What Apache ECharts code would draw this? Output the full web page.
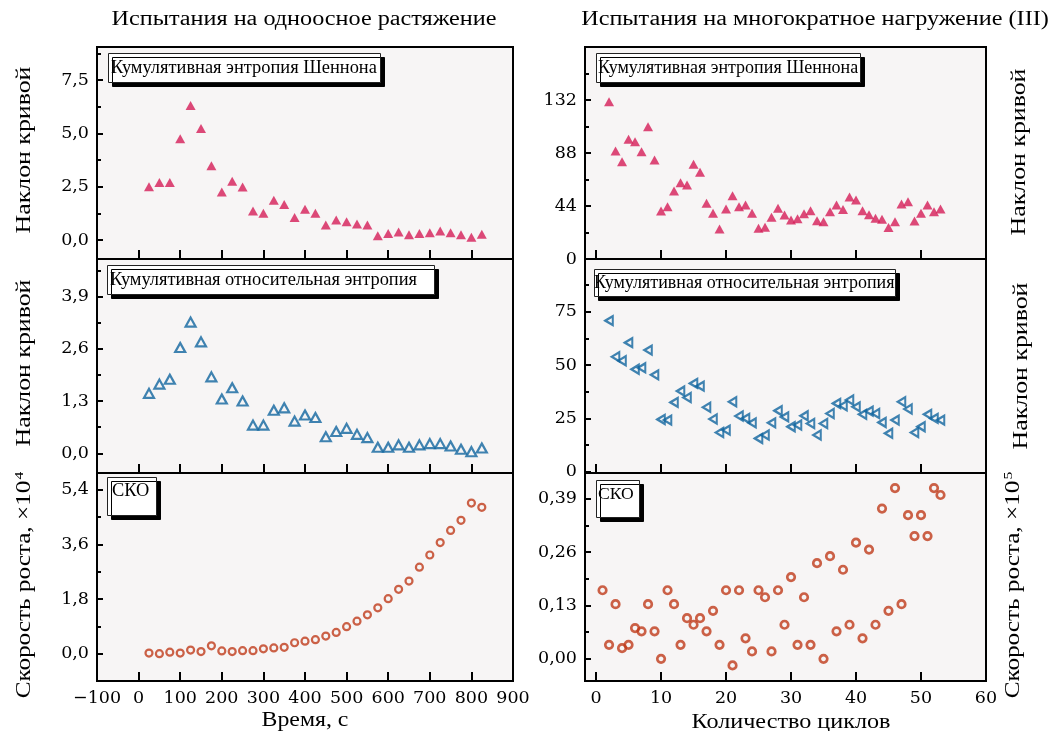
<!DOCTYPE html>
<html>
<head>
<meta charset="utf-8">
<script src="https://cdn.jsdelivr.net/npm/echarts@6/dist/echarts.min.js"></script>
<style>
  html, body { margin: 0; padding: 0; background: #fff; }
  #chart { width: 1050px; height: 731px; }
</style>
</head>
<body>
<div id="chart"></div>
<script>
// Uniaxial tension: time, s
const timeSec = [25, 50, 75, 100, 125, 150, 175, 200, 225, 250, 275, 300, 325, 350, 375, 400, 425,
  450, 475, 500, 525, 550, 575, 600, 625, 650, 675, 700, 725, 750, 775, 800, 825];
const tensionShannon = [2.50, 2.70, 2.70, 4.75, 6.31, 5.23, 3.48, 2.25, 2.75, 2.48, 1.36, 1.25, 1.86,
  1.67, 1.06, 1.44, 1.25, 0.70, 0.94, 0.86, 0.75, 0.70, 0.20, 0.31, 0.38, 0.25, 0.31, 0.34, 0.42,
  0.34, 0.25, 0.13, 0.27];
const tensionRelative = [1.49, 1.72, 1.84, 2.63, 3.26, 2.77, 1.90, 1.35, 1.63, 1.30, 0.70, 0.70, 1.07,
  1.13, 0.80, 0.95, 0.89, 0.41, 0.54, 0.62, 0.47, 0.39, 0.15, 0.15, 0.21, 0.15, 0.21, 0.24, 0.24,
  0.18, 0.10, 0.04, 0.13];
const tensionSko = [0.02, 0.00, 0.05, 0.02, 0.12, 0.07, 0.26, 0.09, 0.07, 0.10, 0.10, 0.16, 0.19,
  0.21, 0.36, 0.41, 0.46, 0.58, 0.70, 0.89, 1.07, 1.28, 1.51, 1.81, 2.12, 2.39, 2.85, 3.25, 3.66,
  4.06, 4.39, 4.96, 4.82];

// Cyclic loading (III): cycle number
const cyclesEntropy = [2, 3, 4, 5, 6, 7, 8, 9, 10, 11, 12, 13, 14, 15, 16, 17, 18, 19, 20, 21, 22, 23,
  24, 25, 26, 27, 28, 29, 30, 31, 32, 33, 34, 35, 36, 37, 38, 39, 40, 41, 42, 43, 44, 45, 46, 47, 48,
  49, 50, 51, 52, 53];
const cyclicShannon = [130.6, 89.7, 80.8, 99.4, 97.4, 89.1, 109.8, 82.2, 39.9, 43.4, 56.5, 63.4, 61.4,
  78.6, 72.0, 46.2, 37.9, 24.9, 41.5, 52.6, 43.4, 44.8, 37.9, 25.5, 26.3, 34.6, 42.1, 36.5, 32.4,
  33.5, 37.6, 40.0, 31.8, 31.0, 39.3, 44.8, 41.0, 51.5, 49.0, 40.1, 36.8, 33.8, 33.0, 26.2, 31.0,
  45.7, 47.6, 31.6, 37.9, 44.8, 39.3, 41.5];
const cyclicRelative = [70.8, 53.9, 52.0, 60.5, 48.0, 48.7, 57.0, 45.4, 24.5, 24.2, 32.5, 37.8, 34.8,
  41.4, 40.1, 30.2, 24.7, 18.4, 19.5, 32.8, 26.1, 25.0, 22.9, 15.6, 17.2, 22.9, 28.6, 25.7, 21.1,
  21.9, 26.2, 22.6, 17.2, 22.6, 27.3, 32.0, 30.9, 33.6, 30.4, 26.9, 28.4, 27.3, 23.1, 18.0, 24.2,
  32.8, 29.4, 18.4, 21.1, 26.9, 25.0, 24.2];
const cyclesSko = [1, 2, 3, 4, 5, 6, 7, 8, 9, 10, 11, 12, 13, 14, 15, 16, 17, 18, 19, 20, 21, 22, 23,
  24, 25, 26, 27, 28, 29, 30, 31, 32, 33, 34, 35, 36, 37, 38, 39, 40, 41, 42, 43, 44, 45, 46, 47, 48,
  49, 50, 51, 52, 53];
const cyclicSko = [0.167, 0.034, 0.133, 0.026, 0.034, 0.075, 0.067, 0.133, 0.067, 0.000, 0.167, 0.133,
  0.034, 0.099, 0.083, 0.099, 0.067, 0.117, 0.034, 0.167, -0.016, 0.167, 0.050, 0.018, 0.167, 0.150,
  0.018, 0.167, 0.083, 0.199, 0.034, 0.150, 0.034, 0.233, 0.000, 0.250, 0.067, 0.217, 0.083, 0.283,
  0.050, 0.266, 0.083, 0.366, 0.117, 0.416, 0.133, 0.350, 0.299, 0.350, 0.299, 0.416, 0.399];

// Tick values (labelled majors and unlabelled minors) per panel
const ticksTimeX = [-100, 0, 100, 200, 300, 400, 500, 600, 700, 800, 900];
const ticksCycleX = [0, 10, 20, 30, 40, 50, 60];
const yMajor = [
  [0, 2.5, 5, 7.5],
  [0, 1.3, 2.6, 3.9],
  [0, 1.8, 3.6, 5.4],
  [0, 44, 88, 132],
  [0, 25, 50, 75],
  [0, 0.13, 0.26, 0.39]
];
const yMinor = [
  [1.25, 3.75, 6.25, 8.75],
  [0.65, 1.95, 3.25, 4.55],
  [0.9, 2.7, 4.5],
  [22, 66, 110, 154],
  [12.5, 37.5, 62.5, 87.5],
  [0.065, 0.195, 0.325]
];
const yDigits = [1, 1, 1, 0, 0, 2];

// Text
const columnTitles = ['Испытания на одноосное растяжение', 'Испытания на многократное нагружение (III)'];
const panelLabels = ['Кумулятивная энтропия Шеннона', 'Кумулятивная относительная энтропия', 'СКО'];
const xNames = ['Время, с', 'Количество циклов'];
const slopeName = 'Наклон кривой';
const rateNames = ['Скорость роста, ×10{sup|4}', 'Скорость роста, ×10{sup|5}'];

const SERIF = 'Liberation Serif';
const WIDE_SERIF = 'DejaVu Serif';
const PINK = '#d41d58';
const BLUE = '#10659f';
const RUST = '#bf3b1a';

const chart = echarts.init(document.getElementById('chart'), null, { renderer: 'canvas' });

// Panel rows (top, height) and columns (left, width)
const rows = [{ top: 47, height: 212 }, { top: 259, height: 214 }, { top: 473, height: 208 }];
const cols = [{ left: 97, width: 416 }, { left: 585, width: 401 }];
// Visible value ranges of each panel
const yRanges = [[-0.89, 9.05], [-0.49, 4.83], [-0.90, 5.95], [0, 176], [-0.6, 99.7], [-0.054, 0.4526]];
const xRanges = [[-100, 900], [-1.7, 60]];

const grids = [];
cols.forEach(c => rows.forEach(r => grids.push({
  left: c.left, top: r.top, width: c.width, height: r.height,
  show: true, backgroundColor: '#f7f5f5', borderColor: '#000', borderWidth: 2
})));

const fmt = digits => v => v.toFixed(digits).replace('.', ',').replace('-', '−');
const tickLabelStyle = { fontFamily: WIDE_SERIF, fontSize: 17.5, color: '#000' };

const yAxes = [];
const majorIdx = [];
yRanges.forEach((rng, g) => {
  majorIdx.push(yAxes.length);
  yAxes.push({
    type: 'value', gridIndex: g, position: 'left', min: rng[0], max: rng[1],
    axisLine: { show: true, onZero: false, lineStyle: { color: '#000', width: 2 } },
    axisTick: { show: true, inside: true, length: 6, customValues: yMajor[g], lineStyle: { color: '#000', width: 2 } },
    axisLabel: Object.assign({ customValues: yMajor[g], formatter: fmt(yDigits[g]), margin: 8 }, tickLabelStyle),
    splitLine: { show: false }
  });
  yAxes.push({
    type: 'value', gridIndex: g, position: 'left', min: rng[0], max: rng[1],
    axisLine: { show: false, onZero: false }, axisLabel: { show: false }, splitLine: { show: false },
    axisTick: { show: true, inside: true, length: 4, customValues: yMinor[g], lineStyle: { color: '#000', width: 2 } }
  });
});

const xAxes = [];
for (let g = 0; g < 6; g++) {
  const c = g < 3 ? 0 : 1;
  const ticks = c === 0 ? ticksTimeX : ticksCycleX;
  xAxes.push({
    type: 'value', gridIndex: g, position: 'bottom', min: xRanges[c][0], max: xRanges[c][1],
    axisLine: { show: true, onZero: false, lineStyle: { color: '#000', width: 2 } },
    axisTick: { show: true, inside: true, length: 9, customValues: ticks, lineStyle: { color: '#000', width: 2 } },
    axisLabel: Object.assign({ show: g === 2 || g === 5, customValues: ticks, margin: 8, formatter: fmt(0) }, tickLabelStyle),
    splitLine: { show: false }
  });
}

const pairs = (xs, ys) => xs.map((x, i) => [x, ys[i]]);
const hollow = color => ({ color: 'rgba(0,0,0,0)', borderColor: color, borderWidth: 2.2 });
const triFilled = { symbol: 'triangle', symbolSize: [10, 9], itemStyle: { color: PINK } };
const triUp = { symbol: 'triangle', symbolSize: [10, 9], itemStyle: hollow(BLUE) };
const triLeft = { symbol: 'triangle', symbolSize: [9, 7.5], symbolRotate: 90, itemStyle: hollow(BLUE) };
const ringSmall = { symbol: 'circle', symbolSize: 7, itemStyle: hollow(RUST) };
const ringLarge = { symbol: 'circle', symbolSize: 7.5, itemStyle: Object.assign(hollow(RUST), { borderWidth: 2.7 }) };

const mk = (g, data, style, name) => Object.assign({
  type: 'scatter', name, xAxisIndex: g, yAxisIndex: majorIdx[g], data, animation: false,
  emphasis: { disabled: true }
}, style);

const series = [
  mk(0, pairs(timeSec, tensionShannon), triFilled, panelLabels[0]),
  mk(1, pairs(timeSec, tensionRelative), triUp, panelLabels[1]),
  mk(2, pairs(timeSec, tensionSko), ringSmall, panelLabels[2]),
  mk(3, pairs(cyclesEntropy, cyclicShannon), triFilled, panelLabels[0]),
  mk(4, pairs(cyclesEntropy, cyclicRelative), triLeft, panelLabels[1]),
  mk(5, pairs(cyclesSko, cyclicSko), ringLarge, panelLabels[2])
];

// Boxed panel captions with a hard drop shadow
const boxStyle = {
  backgroundColor: '#fff', borderColor: '#222', borderWidth: 1,
  shadowColor: '#000', shadowBlur: 0, shadowOffsetX: 4, shadowOffsetY: 4
};
const capText = size => ({ fontFamily: SERIF, fontSize: size, fontWeight: 'normal', color: '#000' });
const captionBoxes = [
  { text: panelLabels[0], left: 108, top: 53, padding: [6, 4, 6, 3], textStyle: capText(18.4) },
  { text: panelLabels[1], left: 107, top: 265, padding: [6, 18, 6, 3], textStyle: capText(18.4) },
  { text: panelLabels[2], left: 107, top: 477, padding: [5, 7, 16, 5], textStyle: capText(18.4) },
  { text: panelLabels[0], left: 596, top: 53, padding: [6, 3, 6, 2], textStyle: capText(18) },
  { text: panelLabels[1], left: 594, top: 269, padding: [5, 1, 5, 0], textStyle: capText(18) },
  { text: panelLabels[2], left: 596, top: 480, padding: [5, 6, 15, 2], textStyle: capText(17.6) }
].map(b => Object.assign({}, boxStyle, b));

// Headers and axis titles: the serif face is drawn horizontally widened
const supRich = { sup: { fontFamily: SERIF, fontSize: 13, fill: '#000', verticalAlign: 'top', padding: [0, 0, 9, 1] } };
const label = (text, x, y, size, stretch, rotated) => ({
  type: 'text', x, y, rotation: rotated ? Math.PI / 2 : 0, scaleX: stretch, scaleY: 1, silent: true,
  style: {
    text, fill: '#000', fontFamily: SERIF, fontSize: size,
    align: 'center', verticalAlign: 'middle', textAlign: 'center', textVerticalAlign: 'middle',
    rich: supRich
  }
});
const graphics = [
  label(columnTitles[0], 304, 20, 20, 1.21, false),
  label(columnTitles[1], 815, 20, 20, 1.21, false),
  label(xNames[0], 305, 721, 20, 1.19, false),
  label(xNames[1], 791, 722, 21, 1.15, false),
  label(slopeName, 24, 150, 21, 1.23, true),
  label(slopeName, 24, 363, 21, 1.23, true),
  label(rateNames[0], 24, 585, 21, 1.2, true),
  label(slopeName, 1019, 152, 21, 1.23, true),
  label(slopeName, 1021, 366, 21, 1.23, true),
  label(rateNames[1], 1013, 585, 21, 1.2, true)
];

chart.setOption({
  animation: false,
  backgroundColor: '#fff',
  title: captionBoxes,
  grid: grids,
  xAxis: xAxes,
  yAxis: yAxes,
  series,
  graphic: { elements: graphics }
});
</script>
</body>
</html>
